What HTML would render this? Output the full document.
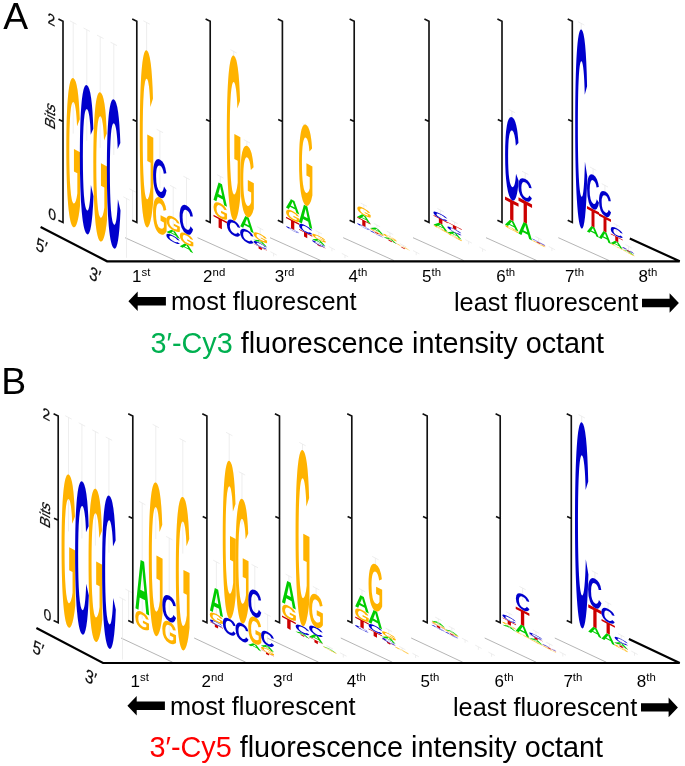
<!DOCTYPE html>
<html><head><meta charset="utf-8"><title>figure</title><style>
html,body{margin:0;padding:0;background:#fff}
body{width:685px;height:766px;overflow:hidden;position:relative;font-family:"Liberation Sans",sans-serif}
svg{position:absolute;left:0;top:0;display:block}
.ax{fill:none;stroke:#111;stroke-width:1.65;stroke-linejoin:miter}
.eb{fill:none;stroke:#e6e6e6;stroke-width:0.7}
.tf{fill:none;stroke:#777;stroke-width:0.55}
.fl{fill:none;stroke:#000;stroke-width:2.2}
</style></head><body>
<svg width="685" height="766" viewBox="0 0 685 766">
<rect width="685" height="766" fill="#fff"/>
<path d="M125.0 237.7 L175.7 260.5" class="tf"/>
<path d="M197.5 237.7 L248.2 260.5" class="tf"/>
<path d="M270.0 237.7 L320.7 260.5" class="tf"/>
<path d="M343.2 237.7 L393.9 260.5" class="tf"/>
<path d="M413.0 237.7 L463.7 260.5" class="tf"/>
<path d="M486.0 237.7 L536.7 260.5" class="tf"/>
<path d="M558.3 237.7 L609.0 260.5" class="tf"/>
<path d="M126.5 257.8 V198.5 m-3.2 -1.7 l6.4 3.4 M132.6 220.0 V190.5 m-3.2 -1.7 l6.4 3.4" class="eb"/>
<g font-family="'Liberation Sans', sans-serif" font-weight="bold" font-size="100">
<path d="M58.4 19.1 L63.0 21.3 L63.0 222.5 L58.4 220.3 M58.8 119.6 L63.0 121.6" class="ax"/>
<path d="M73.2 133.6 V22.6 M70.0 20.9 L76.5 24.3" class="eb"/>
<text transform="matrix(0.2030 0.1066 0 2.1045 65.57 221.01)" fill="#FFB300">G</text>
<path d="M86.8 140.7 V29.7 M83.5 28.0 L90.0 31.4" class="eb"/>
<text transform="matrix(0.2095 0.1100 0 2.1045 79.04 228.08)" fill="#0000CC">C</text>
<path d="M100.2 147.8 V36.8 M97.0 35.1 L103.5 38.5" class="eb"/>
<text transform="matrix(0.2030 0.1066 0 2.1045 92.57 235.18)" fill="#FFB300">G</text>
<path d="M113.8 154.9 V43.9 M110.5 42.2 L117.0 45.6" class="eb"/>
<text transform="matrix(0.2095 0.1100 0 2.1045 106.04 242.26)" fill="#0000CC">C</text>
<path d="M132.2 19.1 L136.8 21.3 L136.8 222.5 L132.2 220.3 M132.6 119.6 L136.8 121.6" class="ax"/>
<path d="M146.6 77.5 V22.5 M143.4 20.8 L149.8 24.2" class="eb"/>
<text transform="matrix(0.2001 0.1050 0 2.5000 138.98 220.63)" fill="#FFB300">G</text>
<path d="M159.9 188.0 V131.0 M156.7 129.3 L163.1 132.7" class="eb"/>
<text transform="matrix(0.2001 0.1050 0 0.5155 152.28 229.55)" fill="#FFB300">G</text>
<text transform="matrix(0.2065 0.1084 0 0.5367 152.25 193.01)" fill="#0000CC">C</text>
<path d="M173.2 242.0 V187.0 M170.0 185.3 L176.3 188.7" class="eb"/>
<text transform="matrix(0.2065 0.1084 0 0.0918 165.55 237.93)" fill="#0000CC">C</text>
<text transform="matrix(0.2012 0.1056 0 0.0727 165.90 231.70)" fill="#00CC00">A</text>
<text transform="matrix(0.2001 0.1050 0 0.1907 165.58 226.35)" fill="#FFB300">G</text>
<path d="M186.5 232.9 V177.9 M183.3 176.2 L189.7 179.6" class="eb"/>
<text transform="matrix(0.2012 0.1056 0 0.0799 179.20 246.08)" fill="#00CC00">A</text>
<text transform="matrix(0.2001 0.1050 0 0.1483 178.88 240.27)" fill="#FFB300">G</text>
<text transform="matrix(0.2065 0.1084 0 0.4025 178.85 229.51)" fill="#0000CC">C</text>
<path d="M205.6 19.1 L210.2 21.3 L210.2 222.5 L205.6 220.3 M206.0 119.6 L210.2 121.6" class="ax"/>
<path d="M220.3 190.0 V176.4 M217.2 174.7 L223.5 178.1" class="eb"/>
<text transform="matrix(0.2293 0.1204 0 0.1483 213.34 224.76)" fill="#CC0000">T</text>
<text transform="matrix(0.2001 0.1050 0 0.2119 212.78 214.06)" fill="#FFB300">G</text>
<text transform="matrix(0.2012 0.1056 0 0.2907 213.10 199.44)" fill="#00CC00">A</text>
<path d="M233.7 59.4 V51.4 M230.5 49.7 L236.8 53.1" class="eb"/>
<text transform="matrix(0.2065 0.1084 0 0.2119 226.05 231.23)" fill="#0000CC">C</text>
<text transform="matrix(0.2001 0.1050 0 2.3305 226.08 214.18)" fill="#FFB300">G</text>
<path d="M246.9 150.4 V141.4 M243.8 139.7 L250.1 143.1" class="eb"/>
<text transform="matrix(0.2065 0.1084 0 0.1766 239.35 238.25)" fill="#0000CC">C</text>
<text transform="matrix(0.2012 0.1056 0 0.1890 239.70 226.10)" fill="#00CC00">A</text>
<text transform="matrix(0.2001 0.1050 0 1.0028 239.38 211.95)" fill="#FFB300">G</text>
<path d="M260.2 239.4 V228.4 M257.1 226.7 L263.4 230.1" class="eb"/>
<text transform="matrix(0.2293 0.1204 0 0.0363 253.24 245.71)" fill="#CC0000">T</text>
<text transform="matrix(0.2065 0.1084 0 0.0494 252.65 242.85)" fill="#0000CC">C</text>
<text transform="matrix(0.2012 0.1056 0 0.0363 253.00 239.58)" fill="#00CC00">A</text>
<text transform="matrix(0.2001 0.1050 0 0.0989 252.68 236.82)" fill="#FFB300">G</text>
<path d="M273.6 256.4 V253.4 M270.4 251.7 L276.8 255.1" class="eb"/>
<path d="M277.8 19.1 L282.4 21.3 L282.4 222.5 L277.8 220.3 M278.2 119.6 L282.4 121.6" class="ax"/>
<path d="M292.6 199.6 V200.6 M289.4 198.9 L295.8 202.3" class="eb"/>
<text transform="matrix(0.2034 0.1068 0 0.0212 285.17 226.64)" fill="#0000CC">C</text>
<text transform="matrix(0.2259 0.1186 0 0.1308 285.75 225.47)" fill="#CC0000">T</text>
<text transform="matrix(0.1971 0.1035 0 0.1271 285.19 216.05)" fill="#FFB300">G</text>
<text transform="matrix(0.1982 0.1041 0 0.1599 285.51 207.34)" fill="#00CC00">A</text>
<path d="M305.8 123.5 V125.5 M302.6 123.8 L308.9 127.2" class="eb"/>
<text transform="matrix(0.2259 0.1186 0 0.0727 298.85 233.84)" fill="#CC0000">T</text>
<text transform="matrix(0.2034 0.1068 0 0.0989 298.27 228.44)" fill="#0000CC">C</text>
<text transform="matrix(0.1982 0.1041 0 0.2907 298.61 221.72)" fill="#00CC00">A</text>
<text transform="matrix(0.1971 0.1035 0 1.1441 298.29 200.44)" fill="#FFB300">G</text>
<path d="M318.8 239.3 V232.3 M315.6 230.6 L322.0 234.0" class="eb"/>
<text transform="matrix(0.2259 0.1186 0 0.0145 311.95 242.22)" fill="#CC0000">T</text>
<text transform="matrix(0.2034 0.1068 0 0.0282 311.37 240.89)" fill="#0000CC">C</text>
<text transform="matrix(0.1982 0.1041 0 0.0436 311.71 239.10)" fill="#00CC00">A</text>
<text transform="matrix(0.1971 0.1035 0 0.0565 311.39 235.88)" fill="#FFB300">G</text>
<path d="M331.9 251.2 V248.2 M328.8 246.5 L335.1 249.9" class="eb"/>
<path d="M345.0 258.1 V255.1 M341.8 253.4 L348.2 256.8" class="eb"/>
<path d="M349.6 19.1 L354.2 21.3 L354.2 222.5 L349.6 220.3 M350.0 119.6 L354.2 121.6" class="ax"/>
<path d="M363.8 211.7 V204.7 M360.6 203.0 L367.0 206.4" class="eb"/>
<text transform="matrix(0.2034 0.1068 0 0.0212 356.37 223.74)" fill="#0000CC">C</text>
<text transform="matrix(0.2259 0.1186 0 0.0872 356.95 222.57)" fill="#CC0000">T</text>
<text transform="matrix(0.1982 0.1041 0 0.0727 356.71 216.44)" fill="#00CC00">A</text>
<text transform="matrix(0.1971 0.1035 0 0.0989 356.39 211.18)" fill="#FFB300">G</text>
<path d="M376.9 232.1 V225.1 M373.8 223.4 L380.1 226.8" class="eb"/>
<text transform="matrix(0.2034 0.1068 0 0.0141 369.47 230.63)" fill="#0000CC">C</text>
<text transform="matrix(0.2259 0.1186 0 0.0145 370.05 229.94)" fill="#CC0000">T</text>
<text transform="matrix(0.1971 0.1035 0 0.0141 369.49 228.64)" fill="#FFB300">G</text>
<text transform="matrix(0.1982 0.1041 0 0.0436 369.81 227.82)" fill="#00CC00">A</text>
<path d="M390.0 239.9 V232.9 M386.8 231.2 L393.2 234.6" class="eb"/>
<text transform="matrix(0.2259 0.1186 0 0.0145 383.15 237.82)" fill="#CC0000">T</text>
<text transform="matrix(0.1982 0.1041 0 0.0291 382.91 236.70)" fill="#00CC00">A</text>
<text transform="matrix(0.1971 0.1035 0 0.0282 382.59 234.50)" fill="#FFB300">G</text>
<path d="M403.1 248.1 V245.3 M399.9 243.6 L406.3 247.0" class="eb"/>
<text transform="matrix(0.2259 0.1186 0 0.0116 396.25 244.70)" fill="#CC0000">T</text>
<text transform="matrix(0.1971 0.1035 0 0.0113 395.69 243.60)" fill="#FFB300">G</text>
<path d="M416.2 255.2 V252.2 M413.0 250.5 L419.4 253.9" class="eb"/>
<path d="M424.4 19.1 L429.0 21.3 L429.0 222.5 L424.4 220.3 M424.8 119.6 L429.0 121.6" class="ax"/>
<path d="M440.6 217.2 V210.2 M437.4 208.5 L443.8 211.9" class="eb"/>
<text transform="matrix(0.2104 0.1105 0 0.0212 432.64 225.53)" fill="#FFB300">G</text>
<text transform="matrix(0.2117 0.1111 0 0.0654 432.97 224.22)" fill="#00CC00">A</text>
<text transform="matrix(0.2411 0.1266 0 0.0727 433.23 219.86)" fill="#CC0000">T</text>
<text transform="matrix(0.2172 0.1140 0 0.0706 432.61 214.46)" fill="#0000CC">C</text>
<path d="M454.6 229.1 V222.1 M451.4 220.4 L457.8 223.8" class="eb"/>
<text transform="matrix(0.2104 0.1105 0 0.0212 446.64 233.38)" fill="#FFB300">G</text>
<text transform="matrix(0.2117 0.1111 0 0.0509 446.97 232.07)" fill="#00CC00">A</text>
<text transform="matrix(0.2172 0.1140 0 0.0494 446.61 228.33)" fill="#0000CC">C</text>
<text transform="matrix(0.2411 0.1266 0 0.0509 447.23 225.21)" fill="#CC0000">T</text>
<path d="M468.6 244.4 V241.4 M465.4 239.7 L471.8 243.1" class="eb"/>
<path d="M482.6 251.8 V248.8 M479.4 247.1 L485.8 250.5" class="eb"/>
<path d="M497.4 19.1 L502.0 21.3 L502.0 222.5 L497.4 220.3 M497.8 119.6 L502.0 121.6" class="ax"/>
<path d="M511.9 123.1 V111.1 M508.7 109.4 L515.1 112.8" class="eb"/>
<text transform="matrix(0.2008 0.1054 0 0.0282 504.28 226.04)" fill="#FFB300">G</text>
<text transform="matrix(0.2020 0.1060 0 0.1090 504.60 224.24)" fill="#00CC00">A</text>
<text transform="matrix(0.2301 0.1208 0 0.2980 504.84 216.86)" fill="#CC0000">T</text>
<text transform="matrix(0.2072 0.1088 0 1.1723 504.25 194.91)" fill="#0000CC">C</text>
<path d="M525.2 184.9 V172.9 M522.0 171.2 L528.4 174.6" class="eb"/>
<text transform="matrix(0.2020 0.1060 0 0.2064 517.95 233.24)" fill="#00CC00">A</text>
<text transform="matrix(0.2301 0.1208 0 0.3212 518.19 219.17)" fill="#CC0000">T</text>
<text transform="matrix(0.2072 0.1088 0 0.3093 517.60 196.46)" fill="#0000CC">C</text>
<path d="M538.6 244.1 V238.2 M535.4 236.5 L541.8 239.9" class="eb"/>
<text transform="matrix(0.2008 0.1054 0 0.0113 530.98 240.07)" fill="#FFB300">G</text>
<text transform="matrix(0.2301 0.1208 0 0.0116 531.54 239.58)" fill="#CC0000">T</text>
<text transform="matrix(0.2072 0.1088 0 0.0113 530.95 238.46)" fill="#0000CC">C</text>
<path d="M551.9 251.1 V248.1 M548.7 246.4 L555.1 249.8" class="eb"/>
<path d="M567.7 19.1 L572.3 21.3 L572.3 222.5 L567.7 220.3 M568.1 119.6 L572.3 121.6" class="ax"/>
<path d="M581.2 35.4 V23.4 M578.0 21.7 L584.4 25.1" class="eb"/>
<text transform="matrix(0.1843 0.0968 0 2.8107 574.44 222.06)" fill="#0000CC">C</text>
<path d="M593.1 180.7 V168.7 M589.9 167.0 L596.3 170.4" class="eb"/>
<text transform="matrix(0.1796 0.0943 0 0.1148 586.60 231.19)" fill="#00CC00">A</text>
<text transform="matrix(0.2046 0.1074 0 0.2573 586.82 223.40)" fill="#CC0000">T</text>
<text transform="matrix(0.1843 0.0968 0 0.4845 586.29 204.95)" fill="#0000CC">C</text>
<path d="M604.9 197.4 V185.4 M601.7 183.7 L608.1 187.1" class="eb"/>
<text transform="matrix(0.1796 0.0943 0 0.1308 598.45 237.41)" fill="#00CC00">A</text>
<text transform="matrix(0.2046 0.1074 0 0.2238 598.67 228.52)" fill="#CC0000">T</text>
<text transform="matrix(0.1843 0.0968 0 0.3531 598.14 212.50)" fill="#0000CC">C</text>
<path d="M616.8 232.0 V225.0 M613.6 223.3 L620.0 226.7" class="eb"/>
<text transform="matrix(0.1786 0.0937 0 0.0141 610.02 243.47)" fill="#FFB300">G</text>
<text transform="matrix(0.1796 0.0943 0 0.0654 610.30 242.63)" fill="#00CC00">A</text>
<text transform="matrix(0.2046 0.1074 0 0.0727 610.52 238.24)" fill="#CC0000">T</text>
<text transform="matrix(0.1843 0.0968 0 0.1130 609.99 232.86)" fill="#0000CC">C</text>
<path d="M628.6 253.2 V246.3 M625.4 244.6 L631.8 248.0" class="eb"/>
<text transform="matrix(0.1786 0.0937 0 0.0113 621.87 249.69)" fill="#FFB300">G</text>
<text transform="matrix(0.1796 0.0943 0 0.0116 622.15 249.05)" fill="#00CC00">A</text>
<text transform="matrix(0.2046 0.1074 0 0.0116 622.37 248.36)" fill="#CC0000">T</text>
<text transform="matrix(0.1843 0.0968 0 0.0141 621.84 247.27)" fill="#0000CC">C</text>
</g>
<g font-family="'Liberation Sans', sans-serif" fill="#111" stroke="#111" stroke-width="0.2">
<text transform="matrix(1.1 0.57 0 1.22 47.4 22.8)" font-size="12.6">2</text>
<text transform="matrix(1.12 0.58 0 1.2 48.3 217.6)" font-size="12.6">0</text>
<text transform="matrix(0 -1 0.98 0.515 54.5 130.6)" font-size="14.8">Bits</text>
<text transform="matrix(0.87 0.45 -0.15 1.06 35.2 249.4)" font-size="17">5′</text>
<text transform="matrix(0.87 0.45 -0.15 1.06 88.7 278.3)" font-size="17">3′</text>
</g>
<path d="M40.6 226.9 L107.1 261.3 H679.7 L629.8 238.4" class="fl"/>
<path d="M121.0 638.0 L172.5 662.2" class="tf"/>
<path d="M194.2 638.0 L245.7 662.2" class="tf"/>
<path d="M267.1 638.0 L318.6 662.2" class="tf"/>
<path d="M340.8 638.0 L392.3 662.2" class="tf"/>
<path d="M411.2 638.0 L462.7 662.2" class="tf"/>
<path d="M484.7 638.0 L536.2 662.2" class="tf"/>
<path d="M554.8 638.0 L606.3 662.2" class="tf"/>
<path d="M122.5 659.5 V598.8 m-3.2 -1.7 l6.4 3.4 M128.6 620.3 V590.8 m-3.2 -1.7 l6.4 3.4" class="eb"/>
<g font-family="'Liberation Sans', sans-serif" font-weight="bold" font-size="100">
<path d="M53.6 413.8 L58.2 416.0 L58.2 622.8 L53.6 620.6 M54.0 518.2 L58.2 520.2" class="ax"/>
<path d="M68.5 531.4 V417.4 M65.2 415.7 L71.7 419.1" class="eb"/>
<text transform="matrix(0.2030 0.1066 0 2.1610 60.77 621.25)" fill="#FFB300">G</text>
<path d="M81.9 538.5 V424.5 M78.7 422.8 L85.1 426.2" class="eb"/>
<text transform="matrix(0.2095 0.1100 0 2.1610 74.24 628.33)" fill="#0000CC">C</text>
<path d="M95.4 545.6 V431.6 M92.2 429.9 L98.6 433.3" class="eb"/>
<text transform="matrix(0.2030 0.1066 0 2.1610 87.77 635.43)" fill="#FFB300">G</text>
<path d="M108.9 552.7 V438.7 M105.7 437.0 L112.1 440.4" class="eb"/>
<text transform="matrix(0.2095 0.1100 0 2.1610 101.24 642.50)" fill="#0000CC">C</text>
<path d="M128.2 413.8 L132.8 416.0 L132.8 622.8 L128.2 620.6 M128.6 516.5 L132.8 518.5" class="ax"/>
<path d="M142.2 618.7 V503.1 M139.1 501.4 L145.4 504.8" class="eb"/>
<text transform="matrix(0.2030 0.1066 0 0.2401 134.57 624.63)" fill="#FFB300">G</text>
<text transform="matrix(0.2042 0.1072 0 0.7413 134.89 608.03)" fill="#00CC00">A</text>
<path d="M155.8 539.0 V426.0 M152.6 424.3 L158.9 427.7" class="eb"/>
<text transform="matrix(0.2030 0.1066 0 2.1681 148.07 629.83)" fill="#FFB300">G</text>
<path d="M169.2 643.1 V538.1 M166.1 536.4 L172.4 539.8" class="eb"/>
<text transform="matrix(0.2030 0.1066 0 0.3037 161.57 638.74)" fill="#FFB300">G</text>
<text transform="matrix(0.2095 0.1100 0 0.3672 161.54 617.17)" fill="#0000CC">C</text>
<path d="M182.8 553.6 V440.2 M179.6 438.5 L185.9 441.9" class="eb"/>
<text transform="matrix(0.2030 0.1066 0 2.1652 175.07 644.01)" fill="#FFB300">G</text>
<path d="M202.3 413.8 L206.9 416.0 L206.9 622.8 L202.3 620.6 M202.7 516.5 L206.9 518.5" class="ax"/>
<path d="M216.4 615.9 V561.9 M213.2 560.2 L219.6 563.6" class="eb"/>
<text transform="matrix(0.2208 0.1159 0 0.0436 209.65 624.37)" fill="#CC0000">T</text>
<text transform="matrix(0.1988 0.1044 0 0.0424 209.08 621.03)" fill="#0000CC">C</text>
<text transform="matrix(0.1926 0.1011 0 0.1130 209.11 617.97)" fill="#FFB300">G</text>
<text transform="matrix(0.1938 0.1017 0 0.3634 209.42 610.25)" fill="#00CC00">A</text>
<path d="M229.2 487.2 V434.0 M226.0 432.3 L232.4 435.7" class="eb"/>
<text transform="matrix(0.1988 0.1044 0 0.2260 221.88 630.57)" fill="#0000CC">C</text>
<text transform="matrix(0.1926 0.1011 0 2.2316 221.91 612.63)" fill="#FFB300">G</text>
<path d="M242.0 524.4 V473.4 M238.8 471.7 L245.2 475.1" class="eb"/>
<text transform="matrix(0.1988 0.1044 0 0.2542 234.68 637.26)" fill="#0000CC">C</text>
<text transform="matrix(0.1926 0.1011 0 1.7585 234.71 617.81)" fill="#FFB300">G</text>
<path d="M254.8 614.1 V566.1 M251.6 564.4 L258.0 567.8" class="eb"/>
<text transform="matrix(0.1938 0.1017 0 0.0581 247.82 644.41)" fill="#00CC00">A</text>
<text transform="matrix(0.1926 0.1011 0 0.3814 247.51 639.87)" fill="#FFB300">G</text>
<text transform="matrix(0.1988 0.1044 0 0.3814 247.48 612.86)" fill="#0000CC">C</text>
<path d="M267.6 648.8 V614.8 M264.4 613.1 L270.8 616.5" class="eb"/>
<text transform="matrix(0.2208 0.1159 0 0.0291 260.85 651.25)" fill="#CC0000">T</text>
<text transform="matrix(0.1926 0.1011 0 0.0565 260.31 648.91)" fill="#FFB300">G</text>
<text transform="matrix(0.1938 0.1017 0 0.0436 260.62 645.13)" fill="#00CC00">A</text>
<text transform="matrix(0.1988 0.1044 0 0.1977 260.28 641.76)" fill="#0000CC">C</text>
<path d="M274.9 413.8 L279.5 416.0 L279.5 622.8 L274.9 620.6 M275.3 516.5 L279.5 518.5" class="ax"/>
<path d="M288.9 587.9 V575.9 M285.7 574.2 L292.1 577.6" class="eb"/>
<text transform="matrix(0.2343 0.1230 0 0.1454 281.74 625.16)" fill="#CC0000">T</text>
<text transform="matrix(0.2045 0.1074 0 0.1836 281.16 614.68)" fill="#FFB300">G</text>
<text transform="matrix(0.2057 0.1080 0 0.3488 281.49 602.03)" fill="#00CC00">A</text>
<path d="M302.5 456.1 V444.1 M299.3 442.4 L305.7 445.8" class="eb"/>
<text transform="matrix(0.2343 0.1230 0 0.0145 295.34 632.30)" fill="#CC0000">T</text>
<text transform="matrix(0.2057 0.1080 0 0.0291 295.09 631.17)" fill="#00CC00">A</text>
<text transform="matrix(0.2111 0.1108 0 0.0989 294.73 628.89)" fill="#0000CC">C</text>
<text transform="matrix(0.2045 0.1074 0 2.4858 294.76 619.57)" fill="#FFB300">G</text>
<path d="M316.1 600.2 V588.2 M312.9 586.5 L319.3 589.9" class="eb"/>
<text transform="matrix(0.2343 0.1230 0 0.0436 308.94 639.44)" fill="#CC0000">T</text>
<text transform="matrix(0.2057 0.1080 0 0.0727 308.69 636.31)" fill="#00CC00">A</text>
<text transform="matrix(0.2111 0.1108 0 0.1130 308.33 631.02)" fill="#0000CC">C</text>
<text transform="matrix(0.2045 0.1074 0 0.4661 308.36 622.68)" fill="#FFB300">G</text>
<path d="M329.7 650.1 V647.3 M326.5 645.6 L332.9 649.0" class="eb"/>
<text transform="matrix(0.2045 0.1074 0 0.0113 321.96 646.27)" fill="#FFB300">G</text>
<text transform="matrix(0.2057 0.1080 0 0.0116 322.29 645.65)" fill="#00CC00">A</text>
<path d="M343.3 657.5 V654.5 M340.1 652.8 L346.5 656.2" class="eb"/>
<path d="M347.2 413.8 L351.8 416.0 L351.8 622.8 L347.2 620.6 M347.6 516.5 L351.8 518.5" class="ax"/>
<path d="M362.0 602.1 V590.1 M358.8 588.4 L365.2 591.8" class="eb"/>
<text transform="matrix(0.2080 0.1092 0 0.0282 354.35 625.82)" fill="#0000CC">C</text>
<text transform="matrix(0.2310 0.1212 0 0.1163 354.94 624.16)" fill="#CC0000">T</text>
<text transform="matrix(0.2015 0.1058 0 0.1412 354.37 615.73)" fill="#FFB300">G</text>
<text transform="matrix(0.2027 0.1064 0 0.2006 354.70 606.03)" fill="#00CC00">A</text>
<path d="M375.4 570.1 V558.1 M372.2 556.4 L378.6 559.8" class="eb"/>
<text transform="matrix(0.2310 0.1212 0 0.0727 368.34 633.20)" fill="#CC0000">T</text>
<text transform="matrix(0.2080 0.1092 0 0.0847 367.75 627.80)" fill="#0000CC">C</text>
<text transform="matrix(0.2027 0.1064 0 0.2180 368.10 622.07)" fill="#00CC00">A</text>
<text transform="matrix(0.2015 0.1058 0 0.6610 367.77 606.26)" fill="#FFB300">G</text>
<path d="M388.8 636.9 V629.9 M385.6 628.2 L392.0 631.6" class="eb"/>
<text transform="matrix(0.2310 0.1212 0 0.0218 381.74 640.23)" fill="#CC0000">T</text>
<text transform="matrix(0.2080 0.1092 0 0.0282 381.15 638.39)" fill="#0000CC">C</text>
<text transform="matrix(0.2027 0.1064 0 0.0436 381.50 636.60)" fill="#00CC00">A</text>
<text transform="matrix(0.2015 0.1058 0 0.0565 381.17 633.38)" fill="#FFB300">G</text>
<path d="M402.2 651.0 V648.0 M399.0 646.3 L405.4 649.7" class="eb"/>
<text transform="matrix(0.2015 0.1058 0 0.0141 394.57 646.96)" fill="#FFB300">G</text>
<path d="M415.6 658.0 V655.0 M412.4 653.3 L418.8 656.7" class="eb"/>
<path d="M422.6 413.8 L427.2 416.0 L427.2 622.8 L422.6 620.6 M423.0 516.5 L427.2 518.5" class="ax"/>
<path d="M438.4 625.8 V618.8 M435.2 617.1 L441.6 620.5" class="eb"/>
<text transform="matrix(0.2065 0.1084 0 0.0141 430.85 624.84)" fill="#0000CC">C</text>
<text transform="matrix(0.2293 0.1204 0 0.0291 431.44 624.16)" fill="#CC0000">T</text>
<text transform="matrix(0.2001 0.1050 0 0.0212 430.88 621.85)" fill="#FFB300">G</text>
<text transform="matrix(0.2012 0.1056 0 0.0291 431.20 620.54)" fill="#00CC00">A</text>
<path d="M451.8 634.8 V627.8 M448.6 626.1 L454.9 629.5" class="eb"/>
<text transform="matrix(0.2065 0.1084 0 0.0141 444.15 631.82)" fill="#0000CC">C</text>
<text transform="matrix(0.2293 0.1204 0 0.0145 444.74 631.15)" fill="#CC0000">T</text>
<text transform="matrix(0.2001 0.1050 0 0.0141 444.18 629.84)" fill="#FFB300">G</text>
<text transform="matrix(0.2012 0.1056 0 0.0218 444.50 629.02)" fill="#00CC00">A</text>
<path d="M465.1 642.8 V639.8 M461.9 638.1 L468.2 641.5" class="eb"/>
<path d="M478.4 649.8 V646.8 M475.2 645.1 L481.6 648.5" class="eb"/>
<path d="M491.6 656.8 V653.8 M488.4 652.1 L494.8 655.5" class="eb"/>
<path d="M495.6 413.8 L500.2 416.0 L500.2 622.8 L495.6 620.6 M496.0 516.5 L500.2 518.5" class="ax"/>
<path d="M509.2 620.4 V613.4 M506.0 611.7 L512.4 615.1" class="eb"/>
<text transform="matrix(0.2027 0.1064 0 0.0291 501.90 624.53)" fill="#00CC00">A</text>
<text transform="matrix(0.2015 0.1058 0 0.0212 501.57 622.35)" fill="#FFB300">G</text>
<text transform="matrix(0.2310 0.1212 0 0.0581 502.14 621.16)" fill="#CC0000">T</text>
<text transform="matrix(0.2080 0.1092 0 0.0565 501.55 616.80)" fill="#0000CC">C</text>
<path d="M522.6 600.1 V588.1 M519.4 586.4 L525.8 589.8" class="eb"/>
<text transform="matrix(0.2015 0.1058 0 0.0141 514.97 631.39)" fill="#FFB300">G</text>
<text transform="matrix(0.2027 0.1064 0 0.1308 515.30 630.57)" fill="#00CC00">A</text>
<text transform="matrix(0.2310 0.1212 0 0.2253 515.54 621.70)" fill="#CC0000">T</text>
<text transform="matrix(0.2080 0.1092 0 0.2232 514.95 605.67)" fill="#0000CC">C</text>
<path d="M536.0 638.6 V631.6 M532.8 629.9 L539.2 633.3" class="eb"/>
<text transform="matrix(0.2015 0.1058 0 0.0113 528.37 638.42)" fill="#FFB300">G</text>
<text transform="matrix(0.2027 0.1064 0 0.0291 528.70 637.80)" fill="#00CC00">A</text>
<text transform="matrix(0.2310 0.1212 0 0.0291 528.94 635.93)" fill="#CC0000">T</text>
<text transform="matrix(0.2080 0.1092 0 0.0353 528.35 633.59)" fill="#0000CC">C</text>
<path d="M549.4 649.5 V643.9 M546.2 642.2 L552.6 645.6" class="eb"/>
<text transform="matrix(0.2015 0.1058 0 0.0099 541.77 645.46)" fill="#FFB300">G</text>
<text transform="matrix(0.2310 0.1212 0 0.0102 542.34 645.07)" fill="#CC0000">T</text>
<text transform="matrix(0.2080 0.1092 0 0.0099 541.75 644.05)" fill="#0000CC">C</text>
<path d="M562.8 656.5 V653.5 M559.6 651.8 L566.0 655.2" class="eb"/>
<path d="M566.7 413.8 L571.3 416.0 L571.3 622.8 L566.7 620.6 M567.1 516.5 L571.3 518.5" class="ax"/>
<path d="M581.7 428.3 V416.3 M578.5 414.6 L584.9 418.0" class="eb"/>
<text transform="matrix(0.2050 0.1076 0 2.9067 574.16 621.32)" fill="#0000CC">C</text>
<path d="M594.9 584.4 V572.4 M591.7 570.7 L598.1 574.1" class="eb"/>
<text transform="matrix(0.1997 0.1049 0 0.1061 587.70 631.27)" fill="#00CC00">A</text>
<text transform="matrix(0.2276 0.1195 0 0.2907 587.94 624.10)" fill="#CC0000">T</text>
<text transform="matrix(0.2050 0.1076 0 0.4138 587.36 603.38)" fill="#0000CC">C</text>
<path d="M608.1 615.0 V603.0 M604.9 601.3 L611.3 604.7" class="eb"/>
<text transform="matrix(0.1997 0.1049 0 0.1163 600.90 638.20)" fill="#00CC00">A</text>
<text transform="matrix(0.2276 0.1195 0 0.1672 601.14 630.33)" fill="#CC0000">T</text>
<text transform="matrix(0.2050 0.1076 0 0.1907 600.56 618.33)" fill="#0000CC">C</text>
<path d="M621.3 642.4 V635.4 M618.1 633.7 L624.5 637.1" class="eb"/>
<text transform="matrix(0.1986 0.1043 0 0.0212 613.79 644.94)" fill="#FFB300">G</text>
<text transform="matrix(0.2276 0.1195 0 0.0218 614.34 643.76)" fill="#CC0000">T</text>
<text transform="matrix(0.1997 0.1049 0 0.0436 614.10 642.13)" fill="#00CC00">A</text>
<text transform="matrix(0.2050 0.1076 0 0.0565 613.76 638.89)" fill="#0000CC">C</text>
<path d="M634.5 655.8 V652.8 M631.3 651.1 L637.7 654.5" class="eb"/>
</g>
<g font-family="'Liberation Sans', sans-serif" fill="#111" stroke="#111" stroke-width="0.2">
<text transform="matrix(1.1 0.57 0 1.22 42.6 417.5)" font-size="12.6">2</text>
<text transform="matrix(1.12 0.58 0 1.2 43.5 617.9)" font-size="12.6">0</text>
<text transform="matrix(0 -1 0.98 0.515 49.7 529.2)" font-size="14.8">Bits</text>
<text transform="matrix(0.87 0.45 -0.15 1.06 31.9 651.9)" font-size="17">5′</text>
<text transform="matrix(0.87 0.45 -0.15 1.06 84.6 680.7)" font-size="17">3′</text>
</g>
<path d="M36.4 628 L103 663.0 H679.7 L628.9 639.0" class="fl"/>
<g font-family="'Liberation Sans', sans-serif" fill="#000">
<text x="3.2" y="28.9" font-size="37.3">A</text>
<text x="132.1" y="282.2" font-size="17">1<tspan dy="-5.8" font-size="11.4">st</tspan></text>
<text x="203.1" y="282.2" font-size="17">2<tspan dy="-5.8" font-size="11.4">nd</tspan></text>
<text x="274.7" y="282.2" font-size="17">3<tspan dy="-5.8" font-size="11.4">rd</tspan></text>
<text x="348.4" y="282.2" font-size="17">4<tspan dy="-5.8" font-size="11.4">th</tspan></text>
<text x="422.0" y="282.2" font-size="17">5<tspan dy="-5.8" font-size="11.4">th</tspan></text>
<text x="496.2" y="282.2" font-size="17">6<tspan dy="-5.8" font-size="11.4">th</tspan></text>
<text x="565.0" y="282.2" font-size="17">7<tspan dy="-5.8" font-size="11.4">th</tspan></text>
<text x="638.4" y="282.2" font-size="17">8<tspan dy="-5.8" font-size="11.4">th</tspan></text>
<text x="171.0" y="309.8" font-size="25.3">most fluorescent</text>
<text x="454.0" y="311.3" font-size="25.3">least fluorescent</text>
<text x="150.5" y="352.7" font-size="28.8"><tspan fill="#00B050">3′-Cy3</tspan> fluorescence intensity octant</text>
<path d="M128.4 301.2 l9.3 -9.8 v5.6 h28.2 v8.4 h-28.2 v5.6 z" fill="#000"/>
<path d="M678.9 303.0 l-9.3 -9.8 v5.6 h-27.6 v8.4 h27.6 v5.6 z" fill="#000"/>
</g>
<g font-family="'Liberation Sans', sans-serif" fill="#000">
<text x="1.2" y="393.7" font-size="37.3">B</text>
<text x="130.5" y="686.7" font-size="17">1<tspan dy="-5.8" font-size="11.4">st</tspan></text>
<text x="201.5" y="686.7" font-size="17">2<tspan dy="-5.8" font-size="11.4">nd</tspan></text>
<text x="273.1" y="686.7" font-size="17">3<tspan dy="-5.8" font-size="11.4">rd</tspan></text>
<text x="346.8" y="686.7" font-size="17">4<tspan dy="-5.8" font-size="11.4">th</tspan></text>
<text x="420.4" y="686.7" font-size="17">5<tspan dy="-5.8" font-size="11.4">th</tspan></text>
<text x="494.6" y="686.7" font-size="17">6<tspan dy="-5.8" font-size="11.4">th</tspan></text>
<text x="563.4" y="686.7" font-size="17">7<tspan dy="-5.8" font-size="11.4">th</tspan></text>
<text x="636.8" y="686.7" font-size="17">8<tspan dy="-5.8" font-size="11.4">th</tspan></text>
<text x="170.0" y="714.5" font-size="25.3">most fluorescent</text>
<text x="453.0" y="715.8" font-size="25.3">least fluorescent</text>
<text x="149.5" y="757.2" font-size="28.8"><tspan fill="#FF0000">3′-Cy5</tspan> fluorescence intensity octant</text>
<path d="M127.4 705.8 l9.3 -9.8 v5.6 h28.2 v8.4 h-28.2 v5.6 z" fill="#000"/>
<path d="M677.9 707.4 l-9.3 -9.8 v5.6 h-27.6 v8.4 h27.6 v5.6 z" fill="#000"/>
</g>
</svg>
</body></html>
